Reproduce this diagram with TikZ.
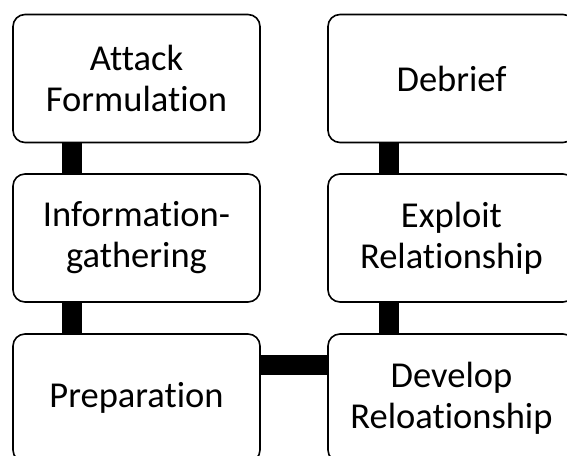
\documentclass[tikz,border=0pt]{standalone}
\usepackage{fontspec}
\setmainfont[Ligatures=NoCommon]{Carlito}
\usepackage{tikz}

\tikzset{
  stage/.style={draw, line width=1.6pt, rounded corners=12pt, fill=white,
    minimum width=247pt, minimum height=128pt, inner sep=0pt,
    align=center, font=\fontsize{36.5}{41}\selectfont},
  bar/.style={line width=20pt}
}

\begin{document}
\begin{tikzpicture}[x=1pt,y=1pt]
\useasboundingbox (0,0) rectangle (567,455);
\clip (0,0) rectangle (567,455);
\node[stage] (attack) at (136.5,376.5) {Attack\\Formulation};
\node[stage] (info) at (136.5,217) {Information-\\gathering};
\node[stage] (prep) at (136.5,57) {Preparation};
\node[stage] (debrief) at (451.5,376.5) {Debrief};
\node[stage] (exploit) at (451.5,217) {Exploit\\Relationship};
\node[stage] (develop) at (451.5,57) {Develop\\Reloationship};
\draw[bar] ([xshift=60pt]attack.south west) -- ([xshift=60pt]info.north west);
\draw[bar] ([xshift=60pt]info.south west) -- ([xshift=60pt]prep.north west);
\draw[bar] ([xshift=61.5pt]debrief.south west) -- ([xshift=61.5pt]exploit.north west);
\draw[bar] ([xshift=61.5pt]exploit.south west) -- ([xshift=61.5pt]develop.north west);
\draw[bar] ([yshift=-31.5pt]prep.north east) -- ([yshift=-31.5pt]develop.north west);
\end{tikzpicture}
\end{document}
